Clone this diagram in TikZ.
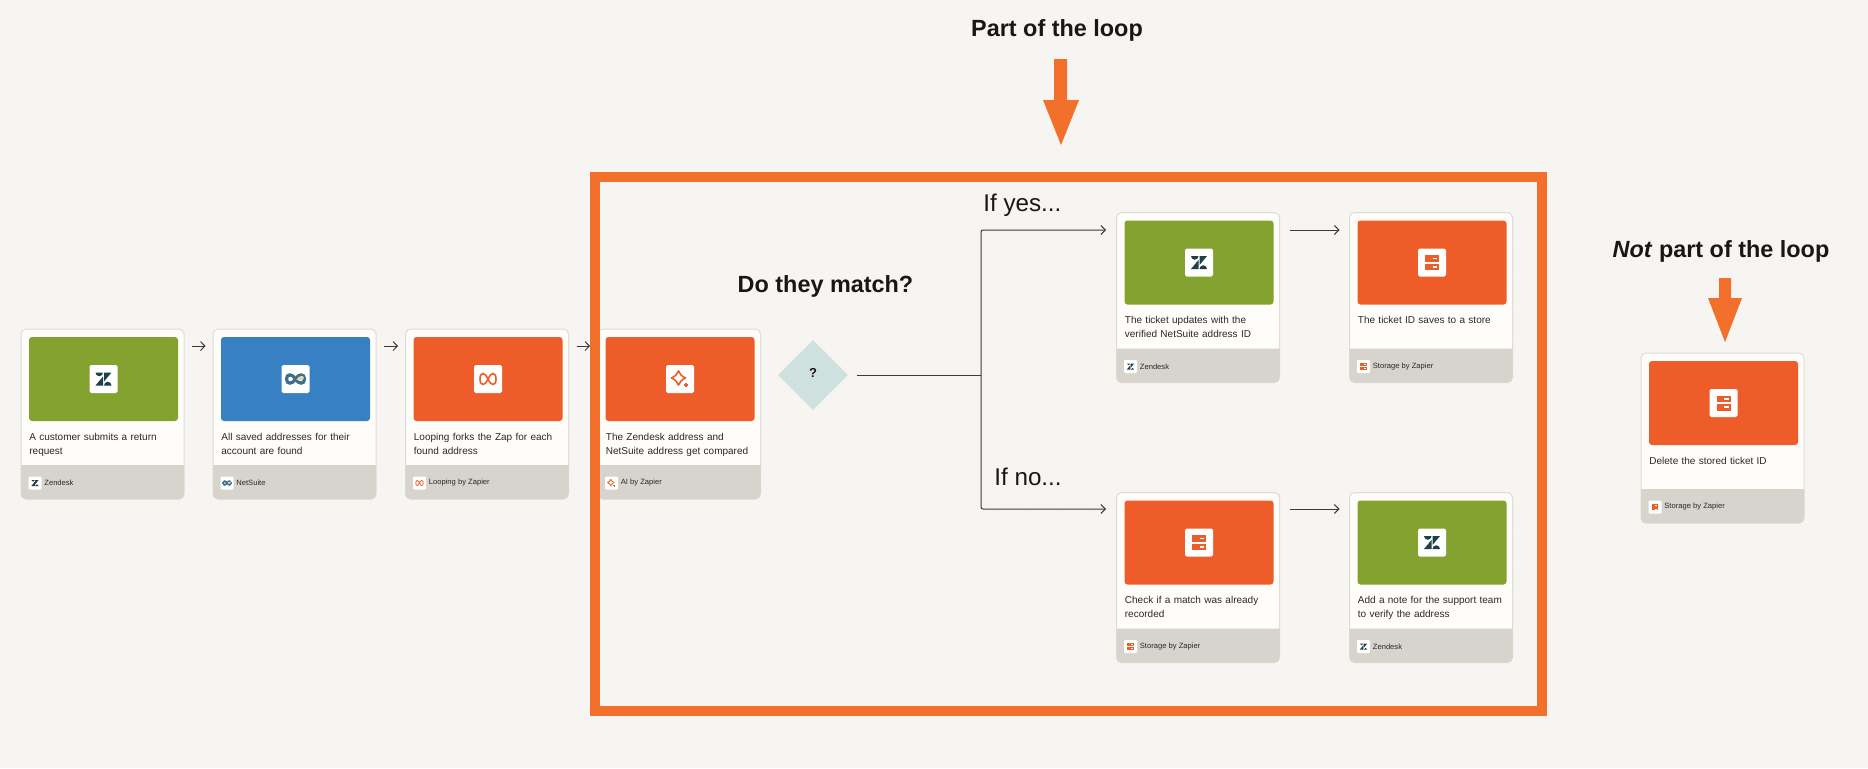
\documentclass[tikz,border=0pt]{standalone}
\usepackage{xcolor}
\usepackage{fontspec}
\setmainfont{Liberation Sans}
\usetikzlibrary{positioning, shapes.geometric, calc, arrows.meta}

\definecolor{paper}{HTML}{F6F5F1}
\definecolor{paperdot}{HTML}{E9E7E0}
\definecolor{cardwhite}{HTML}{FFFDF9}
\definecolor{cardedge}{HTML}{DEDCD5}
\definecolor{footgray}{HTML}{D6D4CC}
\definecolor{zgreen}{HTML}{83A230}
\definecolor{zblue}{HTML}{3880C4}
\definecolor{zorange}{HTML}{EE5C29}
\definecolor{frameorange}{HTML}{F26F2C}
\definecolor{matchteal}{HTML}{CFE1DF}
\definecolor{zdark}{HTML}{1F3F4B}
\definecolor{nsteel}{HTML}{3F6E8C}
\definecolor{ntan}{HTML}{E3D6AE}
\definecolor{inkgray}{HTML}{2B2926}
\definecolor{headink}{HTML}{1A1613}
\definecolor{lineink}{HTML}{3C3A37}

\tikzset{
	cardbox/.style={draw=cardedge, fill=cardwhite, rounded corners=2.5pt, line width=0.5pt, inner sep=0pt, outer sep=0pt, minimum width=81.5pt, minimum height=85pt},
	tilebox/.style={rounded corners=1.5pt, inner sep=0pt, outer sep=0pt, minimum width=74.5pt, minimum height=42pt},
	iconbox/.style={fill=white, rounded corners=0.8pt, inner sep=0pt, minimum size=14pt},
	smallbox/.style={fill=white, rounded corners=0.6pt, inner sep=0pt, minimum size=6.5pt},
	steptext/.style={anchor=north west, inner sep=0pt, text width=76pt, align=left, text=inkgray, font=\fontsize{5}{7}\selectfont},
	apptext/.style={anchor=west, inner sep=0pt, text=inkgray, font=\fontsize{3.8}{5}\selectfont},
	headtext/.style={inner sep=0pt, text=headink, font=\fontsize{11.7}{14}\selectfont\bfseries},
	branchtext/.style={anchor=west, inner sep=0pt, text=headink, font=\fontsize{12.1}{14}\selectfont},
	flow/.style={draw=lineink, line width=0.5pt, rounded corners=1pt, -{Straight Barb[length=2.2pt,width=4.5pt]}},
	bigarrow/.style={fill=frameorange},
	zendesk/.pic={
		\fill[zdark] (-8,-6.5) -- (-0.5,-6.5) arc[start angle=0, end angle=180, radius=3.75] -- cycle;
		\fill[zdark] (-0.5,-2.5) -- (-0.5,6.5) -- (-8,6.5) -- cycle;
		\fill[zdark] (0.5,-6.5) -- (8,-6.5) -- (0.5,2.5) -- cycle;
		\fill[zdark] (0.5,6.5) arc[start angle=180, end angle=360, radius=3.75] -- cycle;
	},
	netsuite/.pic={
		\draw[nsteel, line width=#1*2] (0,0) .. controls (3,-5.5) and (9,-5.5) .. (9,0) .. controls (9,5.5) and (3,5.5) .. (0,0) .. controls (-3,-5.5) and (-9,-5.5) .. (-9,0) .. controls (-9,5.5) and (-3,5.5) .. (0,0);
		\fill[ntan] (1,0.5) .. controls (4,-4) and (8,-4) .. (8.5,-1) .. controls (7,1.5) and (3,2.5) .. (1,0.5);
	},
	looping/.pic={
		\draw[zorange, line width=#1] (0,0) .. controls (2,-3.5) and (3,-5.5) .. (5,-5.5) .. controls (7,-5.5) and (8,-3.5) .. (8,0) .. controls (8,3.5) and (7,5.5) .. (5,5.5) .. controls (3,5.5) and (2,3.5) .. (0,0) .. controls (-2,-3.5) and (-3,-5.5) .. (-5,-5.5) .. controls (-7,-5.5) and (-8,-3.5) .. (-8,0) .. controls (-8,3.5) and (-7,5.5) .. (-5,5.5) .. controls (-3,5.5) and (-2,3.5) .. (0,0);
	},
	sparkle/.pic={
		\draw[zorange, line width=#1, line join=round] (-1.5,-8) .. controls (-0.2,-5) and (1.5,-2.8) .. (5.5,-1) .. controls (1.5,0.8) and (-0.2,3) .. (-1.5,6) .. controls (-2.8,3) and (-4.5,0.8) .. (-8.5,-1) .. controls (-4.5,-2.8) and (-2.8,-5) .. (-1.5,-8) -- cycle;
		\fill[zorange] (5.2,3.6) rectangle (6.8,8.4);
		\fill[zorange] (3.6,5.2) rectangle (8.4,6.8);
	},
	storage/.pic={
		\fill[zorange] (-7,-7.5) rectangle (7,-1);
		\fill[zorange] (-7,1) rectangle (7,7.5);
		\draw[white, line width=#1] (0.5,-4.2) -- (5.2,-4.2);
		\draw[white, line width=#1] (0.5,4.2) -- (5.2,4.2);
	},
}

% name, x, y, tile colour, icon, step text, app name
\newcommand{\zapcard}[7]{
	\begin{scope}[shift={(#2,#3)}]
		\node [cardbox, anchor=north west] (#1) at (0,0) {};
		\fill [footgray] (0,136) -- (163,136) [rounded corners=2.5pt] -- (163,170) -- (0,170) [sharp corners] -- cycle;
		\node [tilebox, fill=#4, anchor=north west] (#1-tile) at (8,8) {};
		\node [iconbox] (#1-icon) at (#1-tile.center) {};
		\pic at (#1-icon) {#5=0.8pt};
		\node [steptext] (#1-step) at (8,103.5) {#6};
		\node [smallbox] (#1-mark) at (14,154) {};
		\pic [scale=0.46] at (#1-mark) {#5=0.4pt};
		\node [apptext] (#1-app) at (23,154) {#7};
	\end{scope}
}

\begin{document}
\begin{tikzpicture}[x=0.5pt, y=-0.5pt]
	\useasboundingbox (0,0) rectangle (1868,768);
	\fill [paper] (0,0) rectangle (1868,768);
	\foreach \gy in {4,14.67,...,768}
		\draw [paperdot, line width=0.5pt, dash pattern=on 0.5pt off 4.83pt] (0,\gy) -- (1868,\gy);

	\zapcard{lookup}{21}{329}{zgreen}{zendesk}{A customer submits a return\\request}{Zendesk}
	\zapcard{addresses}{213}{329}{zblue}{netsuite}{All saved addresses for their\\account are found}{NetSuite}
	\zapcard{forks}{405.5}{329}{zorange}{looping}{Looping forks the Zap for each\\found address}{Looping by Zapier}
	\zapcard{compare}{597.5}{329}{zorange}{sparkle}{The Zendesk address and\\NetSuite address get compared}{AI by Zapier}
	\zapcard{verified}{1116.5}{212.5}{zgreen}{zendesk}{The ticket updates with the\\verified NetSuite address ID}{Zendesk}
	\zapcard{saved}{1349.5}{212.5}{zorange}{storage}{The ticket ID saves to a store}{Storage by Zapier}
	\zapcard{recorded}{1116.5}{492.5}{zorange}{storage}{Check if a match was already\\recorded}{Storage by Zapier}
	\zapcard{note}{1349.5}{492.5}{zgreen}{zendesk}{Add a note for the support team\\to verify the address}{Zendesk}
	\zapcard{cleanup}{1641}{353}{zorange}{storage}{Delete the stored ticket ID}{Storage by Zapier}

	% first row
	\draw [flow, shorten <=4pt, shorten >=3.7pt] ([yshift=-8.5pt]lookup.north east) -- ([yshift=-8.5pt]addresses.north west);
	\draw [flow, shorten <=4pt, shorten >=3.7pt] ([yshift=-8.5pt]addresses.north east) -- ([yshift=-8.5pt]forks.north west);
	\draw [flow, shorten <=4pt, shorten >=3.7pt] ([yshift=-8.5pt]forks.north east) -- ([yshift=-8.5pt]compare.north west);

	\node [diamond, fill=matchteal, inner sep=0pt, minimum size=35pt] (match) at (813,375) {};
	\node [inner sep=0pt, font=\fontsize{6.5}{7}\selectfont\bfseries, text=headink] (matchmark) at (813,373) {?};

	% both branches
	\coordinate (fork) at (981,375);
	\draw [draw=lineink, line width=0.5pt, shorten <=4.5pt] (match.east) -- (fork);
	\draw [flow, shorten >=5.25pt] (fork) |- ([yshift=-8.75pt]verified.north west);
	\draw [flow, shorten >=5.25pt] (fork) |- ([yshift=-8.25pt]recorded.north west);
	\draw [flow, shorten <=5.25pt, shorten >=5pt] ([yshift=-8.75pt]verified.north east) -- ([yshift=-8.75pt]saved.north west);
	\draw [flow, shorten <=5.25pt, shorten >=5pt] ([yshift=-8.25pt]recorded.north east) -- ([yshift=-8.25pt]note.north west);

	\node [branchtext] (ifyes) at (983,205) {If yes...};
	\node [branchtext] (ifno) at (994,477) {If no...};
	\node [headtext] (matchhead) at (825.5,286) {Do they match?};
	\node [headtext] (inloop) at (1057,30) {Part of the loop};
	\node [headtext] (outloop) at (1721,251) {\textit{Not} part of the loop};

	\fill [bigarrow] (1054,59) -- (1067,59) -- (1067,100) -- (1079,100) -- (1061,145) -- (1043,100) -- (1054,100) -- cycle;
	\fill [bigarrow] (1719,278) -- (1731,278) -- (1731,298) -- (1742,298) -- (1725,342) -- (1708,298) -- (1719,298) -- cycle;

	\draw [frameorange, line width=5pt] (595,177) rectangle (1542,711);
\end{tikzpicture}
\end{document}
